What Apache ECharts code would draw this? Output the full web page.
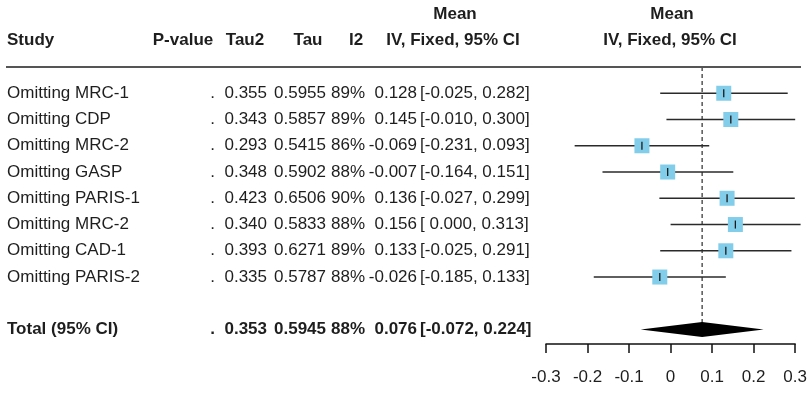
<!DOCTYPE html>
<html>
<head>
<meta charset="utf-8">
<script src="https://cdn.jsdelivr.net/npm/echarts@6/dist/echarts.min.js"></script>
<style>
  html, body { margin: 0; padding: 0; background: #fff; }
  #chart { width: 810px; height: 394px; }
</style>
</head>
<body>
<div id="chart"></div>
<script>
// study rows
const studies = ['Omitting MRC-1', 'Omitting CDP', 'Omitting MRC-2', 'Omitting GASP',
  'Omitting PARIS-1', 'Omitting MRC-2', 'Omitting CAD-1', 'Omitting PARIS-2'];
const pValues = ['.', '.', '.', '.', '.', '.', '.', '.'];
const tau2 = [0.355, 0.343, 0.293, 0.348, 0.423, 0.340, 0.393, 0.335];
const tau = [0.5955, 0.5857, 0.5415, 0.5902, 0.6506, 0.5833, 0.6271, 0.5787];
const i2 = [89, 89, 86, 88, 90, 88, 89, 88];
const means = [0.128, 0.145, -0.069, -0.007, 0.136, 0.156, 0.133, -0.026];
const lowers = [-0.025, -0.010, -0.231, -0.164, -0.027, 0.000, -0.025, -0.185];
const uppers = [0.282, 0.300, 0.093, 0.151, 0.299, 0.313, 0.291, 0.133];

// total row
const totalLabel = 'Total (95% CI)';
const totalP = '.';
const totalTau2 = 0.353;
const totalTau = 0.5945;
const totalI2 = 88;
const totalMean = 0.076;
const totalLower = -0.072;
const totalUpper = 0.224;
const totalRow = 9;

// axis ticks
const xTicks = [-0.3, -0.2, -0.1, 0, 0.1, 0.2, 0.3];

const FONT = '"Liberation Sans", Arial, Helvetica, sans-serif';
const TXT = '#1e1e1e';

function fmtNum(v, d) {
  return v.toFixed(d);
}
function fmtCI(lo, hi) {
  const a = lo < 0 ? lo.toFixed(3) : ' ' + lo.toFixed(3);
  return '[' + a + ', ' + hi.toFixed(3) + ']';
}

// table rows, last one is the total
const tableRows = studies.map((s, i) => ({
  row: i, bold: false,
  cells: [s, pValues[i], fmtNum(tau2[i], 3), fmtNum(tau[i], 4), i2[i] + '%',
    fmtNum(means[i], 3), fmtCI(lowers[i], uppers[i])]
}));
tableRows.push({
  row: totalRow, bold: true,
  cells: [totalLabel, totalP, fmtNum(totalTau2, 3), fmtNum(totalTau, 4), totalI2 + '%',
    fmtNum(totalMean, 3), fmtCI(totalLower, totalUpper)]
});

// column x positions and alignment
const colX = [7, 215, 267, 326, 365, 417, 420];
const colAlign = ['left', 'right', 'right', 'right', 'right', 'right', 'left'];

const chart = echarts.init(document.getElementById('chart'));

const option = {
  animation: false,
  backgroundColor: '#fff',
  grid: { left: 546, right: 14, top: 67, bottom: 50 },
  xAxis: {
    type: 'value',
    min: -0.3, max: 0.3, interval: 0.1,
    splitLine: { show: false },
    axisLine: { show: true, onZero: false, lineStyle: { color: '#111', width: 1.5 } },
    axisTick: { show: true, length: 9, lineStyle: { color: '#111', width: 1.5 } },
    axisLabel: {
      margin: 25, fontSize: 17, color: TXT, fontFamily: FONT,
      showMinLabel: true, showMaxLabel: true,
      formatter: (v) => {
        const t = xTicks.find(x => Math.abs(x - v) < 1e-6);
        return t === 0 ? '0' : String(t);
      }
    }
  },
  yAxis: { type: 'value', inverse: true, min: -1, max: 9.55, show: false },
  graphic: [
    { type: 'line', shape: { x1: 6, y1: 67, x2: 801, y2: 67 }, style: { stroke: '#555', lineWidth: 2 } },
    { type: 'text', style: { text: 'Study', x: 7, y: 40, font: 'bold 17px ' + FONT, fill: TXT, verticalAlign: 'middle' } },
    { type: 'text', style: { text: 'P-value', x: 183, y: 40, font: 'bold 17px ' + FONT, fill: TXT, align: 'center', verticalAlign: 'middle' } },
    { type: 'text', style: { text: 'Tau2', x: 245, y: 40, font: 'bold 17px ' + FONT, fill: TXT, align: 'center', verticalAlign: 'middle' } },
    { type: 'text', style: { text: 'Tau', x: 308, y: 40, font: 'bold 17px ' + FONT, fill: TXT, align: 'center', verticalAlign: 'middle' } },
    { type: 'text', style: { text: 'I2', x: 356, y: 40, font: 'bold 17px ' + FONT, fill: TXT, align: 'center', verticalAlign: 'middle' } },
    { type: 'text', style: { text: 'Mean', x: 455, y: 14, font: 'bold 17px ' + FONT, fill: TXT, align: 'center', verticalAlign: 'middle' } },
    { type: 'text', style: { text: 'IV, Fixed, 95% CI', x: 453, y: 40, font: 'bold 17px ' + FONT, fill: TXT, align: 'center', verticalAlign: 'middle' } },
    { type: 'text', style: { text: 'Mean', x: 672, y: 14, font: 'bold 17px ' + FONT, fill: TXT, align: 'center', verticalAlign: 'middle' } },
    { type: 'text', style: { text: 'IV, Fixed, 95% CI', x: 670, y: 40, font: 'bold 17px ' + FONT, fill: TXT, align: 'center', verticalAlign: 'middle' } }
  ],
  series: [
    {
      // dashed line at pooled estimate
      type: 'line',
      data: [[totalMean, -1], [totalMean, 9.25]],
      symbol: 'none',
      silent: true,
      lineStyle: { color: '#555', width: 1.5, type: [4, 3] },
      z: 1
    },
    {
      // confidence intervals and squares
      type: 'custom',
      clip: false,
      data: means.map((m, i) => [lowers[i], uppers[i], m, i]),
      renderItem: (params, api) => {
        const row = api.value(3);
        const p1 = api.coord([api.value(0), row]);
        const p2 = api.coord([api.value(1), row]);
        const pm = api.coord([api.value(2), row]);
        const s = 15;
        return {
          type: 'group',
          children: [
            { type: 'line', shape: { x1: p1[0], y1: p1[1], x2: p2[0], y2: p2[1] }, style: { stroke: '#2a2a2a', lineWidth: 1.4 } },
            { type: 'rect', shape: { x: pm[0] - s / 2, y: pm[1] - s / 2, width: s, height: s }, style: { fill: '#82cde9' } },
            { type: 'line', shape: { x1: pm[0], y1: pm[1] - 4, x2: pm[0], y2: pm[1] + 4 }, style: { stroke: '#1a1a1a', lineWidth: 1.3 } }
          ]
        };
      },
      z: 3
    },
    {
      // pooled diamond
      type: 'custom',
      clip: false,
      data: [[totalLower, totalUpper, totalMean, totalRow]],
      renderItem: (params, api) => {
        const row = api.value(3);
        const pl = api.coord([api.value(0), row]);
        const pr = api.coord([api.value(1), row]);
        const pm = api.coord([api.value(2), row]);
        const h = 7.5;
        return {
          type: 'polygon',
          shape: { points: [[pl[0], pl[1]], [pm[0], pm[1] - h], [pr[0], pr[1]], [pm[0], pm[1] + h]] },
          style: { fill: '#000' }
        };
      },
      z: 3
    },
    {
      // table text
      type: 'custom',
      clip: false,
      silent: true,
      data: tableRows.map((r, k) => [0, r.row, k]),
      renderItem: (params, api) => {
        const r = tableRows[api.value(2)];
        const y = api.coord([0, api.value(1)])[1];
        const font = (r.bold ? 'bold ' : '') + '17px ' + FONT;
        return {
          type: 'group',
          children: r.cells.map((c, j) => ({
            type: 'text',
            style: { text: c, x: colX[j], y: y, font: font, fill: TXT, align: colAlign[j], verticalAlign: 'middle' }
          }))
        };
      },
      z: 4
    }
  ]
};

chart.setOption(option);
</script>
</body>
</html>
